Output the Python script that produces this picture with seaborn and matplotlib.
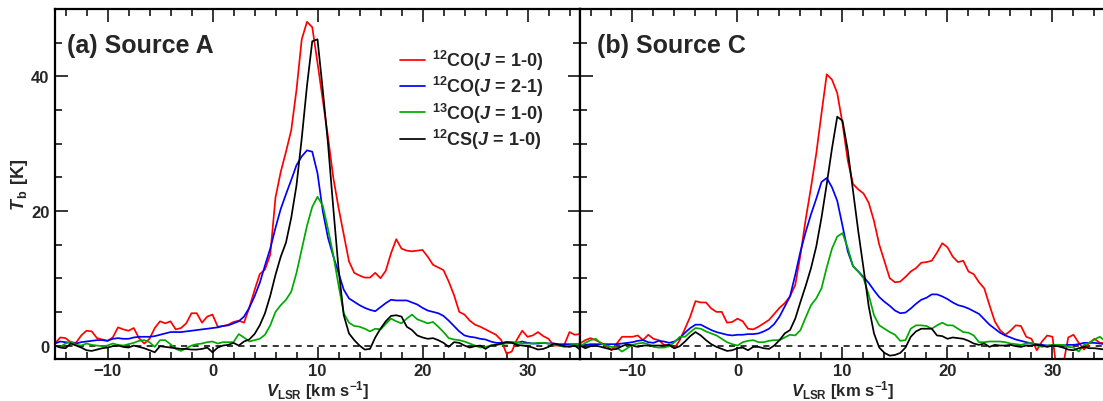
import numpy as np
import pandas as pd
import matplotlib
matplotlib.use("Agg")
import matplotlib.pyplot as plt
from matplotlib.ticker import MultipleLocator
import seaborn as sns

# ---------------- data ----------------
velocity = np.arange(-15, 35.01, 0.5)  # channel grid, km/s

series_labels = [r"$^{\mathrm{12}}$CO($J$ = 1-0)", r"$^{\mathrm{12}}$CO($J$ = 2-1)",
                 r"$^{\mathrm{13}}$CO($J$ = 1-0)", r"$^{\mathrm{12}}$CS($J$ = 1-0)"]
series_colors = ["#ff0000", "#0000ff", "#00aa00", "#000000"]

a_co10 = [0.3, 1.2, 1.1, 0.5, 0.4, 1.5, 2.2, 2.1, 1.1, 0.9,
          0.7, 1.2, 2.7, 2.4, 2.2, 2.6, 1.1, 0.3, 1.0, 2.6,
          3.6, 3.3, 3.6, 2.4, 2.6, 3.3, 4.8, 4.8, 3.4, 4.3,
          4.6, 2.8, 2.9, 3.1, 3.5, 3.7, 3.4, 5.6, 8.2, 10.6,
          11.3, 13.5, 22.0, 25.8, 28.8, 32.0, 38.0, 45.5, 48.1, 47.3,
          42.0, 36.5, 31.0, 25.0, 20.5, 16.5, 12.5, 10.8, 10.4, 10.1,
          10.1, 10.8, 10.0, 11.1, 13.7, 15.8, 14.4, 14.1, 14.0, 14.1,
          14.2, 13.2, 12.0, 11.6, 11.2, 9.5, 7.5, 5.0, 4.6, 3.7,
          3.1, 2.8, 2.4, 2.0, 1.6, 0.8, -1.2, -0.9, 0.9, 2.2,
          1.3, 1.5, 2.0, 1.4, 1.0, 0.0, 0.0, 0.1, 2.0, 1.6,
          1.7]
a_co21 = [0.3, 0.6, 0.5, 0.4, 0.3, 0.5, 0.6, 0.7, 0.8, 0.8,
          0.7, 1.0, 1.1, 1.0, 1.0, 1.2, 1.3, 1.3, 1.3, 1.4,
          1.6, 1.8, 2.0, 2.0, 2.0, 2.1, 2.2, 2.3, 2.4, 2.5,
          2.6, 2.7, 2.9, 3.0, 3.3, 3.6, 4.3, 5.6, 7.3, 9.3,
          11.9, 14.4, 17.5, 20.3, 22.5, 24.6, 26.8, 28.1, 29.0, 28.8,
          25.6, 20.0, 16.0, 13.3, 10.8, 8.3, 7.0, 6.5, 6.0, 5.6,
          5.3, 5.1, 5.7, 6.3, 6.8, 6.7, 6.7, 6.7, 6.4, 6.1,
          5.6, 5.2, 5.0, 4.8, 4.4, 3.7, 2.9, 2.1, 1.5, 1.3,
          1.2, 1.0, 0.9, 0.6, 0.4, 0.4, 0.5, 0.5, 0.4, 0.6,
          0.4, 0.3, 0.3, 0.4, 0.3, 0.3, 0.2, 0.2, 0.2, 0.2,
          0.2]
a_13co = [0.0, -0.2, 0.3, 0.6, 0.1, 0.0, 0.3, 0.1, 0.0, -0.1,
          0.0, 0.3, 0.1, 0.0, 0.2, 0.4, 0.7, 0.8, 0.5, -0.2,
          0.8, 0.8, 0.2, -0.5, -0.8, -0.4, 0.0, 0.2, 0.3, 0.5,
          0.6, 0.3, 0.5, 0.5, 0.5, 1.7, 1.2, 0.6, 0.8, 1.0,
          1.6, 3.0, 5.0, 6.0, 6.8, 8.0, 10.8, 14.3, 17.8, 20.6,
          22.1, 20.8, 17.3, 13.5, 9.0, 4.8, 3.4, 2.9, 2.8, 2.5,
          2.1, 2.5, 2.4, 3.2, 4.0, 3.6, 3.3, 4.0, 4.6, 3.9,
          3.6, 3.3, 3.5, 2.8, 2.0, 1.1, 0.9, 0.8, 0.6, 0.3,
          0.0, -0.3, -0.2, 0.0, 0.1, 0.2, 0.3, 0.4, 0.5, 0.3,
          0.3, 0.3, 0.4, 0.4, 0.3, 0.2, 0.0, -0.2, 0.0, 0.1,
          0.3]
a_cs = [0.0, -0.3, -0.4, 0.3, 0.0, -0.3, -0.7, -0.8, -0.6, -0.4,
        -0.3, -0.1, 0.0, -0.2, -0.3, 0.0, -0.2, -0.4, -0.7, -1.0,
        -0.1, -0.2, -0.3, -0.4, -0.5, -0.5, -0.6, -0.6, -0.5, -0.3,
        -1.0, -0.3, 0.0, 0.1, 0.4, 0.0, 0.6, 0.9, 1.7, 3.0,
        4.8, 7.4, 10.5, 13.2, 15.3, 19.0, 23.8, 30.8, 38.6, 45.2,
        45.5, 38.0, 30.0, 20.5, 11.5, 4.5, 1.8, 0.8, 0.0, -0.6,
        -0.5, 1.2, 2.5, 3.6, 4.4, 4.5, 4.3, 2.8, 2.3, 1.5,
        1.2, 1.0, 1.1, 0.8, 0.4, -0.2, 0.5, 0.4, 0.0, -0.3,
        -0.1, 0.0, -0.5, 0.0, 0.1, 0.3, 0.5, 0.4, 0.1, 0.0,
        -0.1, -0.3, -0.6, -0.5, -0.2, 0.3, 0.1, -0.1, -0.2, 0.0,
        -0.6]

c_co10 = [0.3, 0.8, 1.1, 0.8, 0.4, 0.0, -0.7, 0.3, 1.3, 1.3,
          1.3, 1.5, 0.8, 1.6, 1.0, 0.8, 0.1, 0.0, -0.4, 0.8,
          2.5, 4.3, 6.6, 6.4, 6.4, 5.5, 5.0, 5.0, 3.4, 3.5,
          4.0, 3.6, 2.5, 2.4, 2.8, 3.3, 3.8, 4.7, 5.6, 6.3,
          7.3, 9.0, 13.5, 18.8, 23.5, 28.5, 34.5, 40.3, 39.5, 37.5,
          33.0, 27.5, 24.0, 23.2, 22.6, 21.2, 18.5, 15.0, 12.5, 10.0,
          9.4, 9.5, 10.2, 11.0, 11.5, 12.3, 12.4, 12.6, 13.8, 15.2,
          14.6, 13.2, 12.4, 12.6, 11.0, 10.6, 9.4, 8.5, 6.0, 3.6,
          2.3, 1.6, 2.2, 3.0, 2.9, 1.3, 1.0, -0.7, 0.6, 1.5,
          1.3, -5.0, -3.0, 1.2, 1.6, 0.4, -0.6, 0.4, 1.0, 0.4,
          0.4]
c_co21 = [0.0, 0.1, 0.2, 0.2, 0.2, 0.2, 0.2, 0.2, 0.3, 0.4,
          0.5, 0.7, 0.8, 0.5, 0.4, 0.7, 0.6, 0.4, 0.6, 1.1,
          1.9, 2.6, 3.1, 3.1, 2.7, 2.3, 2.0, 1.8, 1.6, 1.5,
          1.6, 1.6, 1.7, 1.7, 1.8, 2.1, 2.5, 3.2, 4.3, 5.8,
          7.3, 10.5, 14.0, 16.9, 19.5, 21.8, 24.3, 24.9, 23.5, 21.5,
          17.8, 14.0, 11.8, 11.0, 10.2, 9.3, 8.2, 7.2, 6.5, 5.9,
          5.2, 4.8, 4.9, 5.5, 6.2, 6.8, 7.1, 7.6, 7.6, 7.3,
          6.9, 6.4, 6.0, 5.8, 5.5, 5.1, 4.7, 3.9, 3.1, 2.5,
          1.9, 1.5, 1.2, 0.9, 0.7, 0.5, 0.3, 0.2, 0.1, 0.0,
          0.0, 0.0, 0.0, 0.1, 0.1, 0.2, 0.4, 0.4, 0.4, 0.3,
          0.2]
c_13co = [-0.2, 0.4, 0.8, 1.0, 0.3, 0.0, -0.2, -0.3, -0.9, -0.4,
          0.1, 0.3, 0.4, 0.2, -0.2, -0.3, -0.3, -0.1, 0.5, 1.3,
          1.3, 2.0, 2.6, 2.5, 2.1, 1.8, 1.5, 1.0, 0.5, 0.2,
          0.0, 0.5, 0.7, 0.8, 0.5, 0.5, 0.7, 0.8, 0.8, 1.2,
          1.6, 1.5, 2.3, 4.2, 6.0, 7.0, 8.5, 11.6, 14.4, 16.2,
          16.7, 14.5, 11.8, 11.0, 10.0, 7.5, 4.5, 3.0, 2.5, 2.0,
          1.6, 0.7, 0.8, 2.5, 3.0, 3.0, 2.9, 2.5, 3.0, 3.4,
          3.0, 3.0, 2.5, 2.0, 1.9, 1.5, 0.5, 0.5, 0.6, 0.6,
          0.6, 0.5, 0.3, 0.2, 0.1, 0.3, 0.4, 0.0, -0.2, 0.0,
          0.1, 0.1, 0.1, -0.2, -0.3, -0.9, 0.1, 0.4, 0.9, 1.3,
          0.7]
c_cs = [0.0, -0.4, -0.1, 0.0, -0.2, -0.4, -0.6, -0.5, -0.1, 0.2,
        0.0, -0.2, 0.0, 0.0, 0.0, 0.0, 0.0, 0.1, -0.4, -0.1,
        0.6, 1.4, 2.0, 1.5, 0.8, 0.2, -0.2, -0.5, -0.8, -0.7,
        -0.4, -0.3, -0.7, -0.2, -0.2, -0.4, -0.5, 0.0, 0.8, 1.8,
        2.3, 4.0, 6.5, 8.9, 11.5, 14.7, 19.0, 24.0, 29.3, 34.0,
        33.4, 29.0, 23.0, 17.0, 11.5, 5.8, 1.8, -0.3, -1.1, -1.5,
        -1.4, -1.1, -0.3, 1.3, 2.1, 2.5, 2.5, 2.5, 1.5, 1.4,
        1.0, 1.2, 1.1, 1.0, 0.7, 0.3, 0.1, 0.3, -0.2, 0.1,
        0.0, 0.0, 0.1, -0.1, -0.2, 0.0, 0.0, 0.1, 0.0, -0.2,
        0.0, -0.1, -0.3, -0.6, -0.7, -0.4, -0.2, -0.4, -0.4, -0.5,
        -0.6]

panel_titles = ["(a) Source A", "(b) Source C"]
xticks = [-10, 0, 10, 20, 30]
yticks = [0, 20, 40]


def long_frame(cols):
    parts = []
    for lab, vals in zip(series_labels, cols):
        parts.append(pd.DataFrame({"v": velocity, "T": vals, "line": lab}))
    return pd.concat(parts, ignore_index=True)


df_a = long_frame([a_co10, a_co21, a_13co, a_cs])
df_c = long_frame([c_co10, c_co21, c_13co, c_cs])

# ---------------- style ----------------
sns.set_style("ticks")
txtc = "#262626"
plt.rcParams.update({
    "font.family": ["Liberation Sans", "DejaVu Sans"],
    "font.weight": "bold",
    "axes.labelweight": "bold",
    "mathtext.fontset": "custom",
    "mathtext.rm": "Liberation Sans:bold",
    "mathtext.it": "Liberation Sans:italic:bold",
    "mathtext.bf": "Liberation Sans:bold",
    "text.color": txtc,
    "axes.labelcolor": txtc,
    "xtick.labelcolor": txtc,
    "ytick.labelcolor": txtc,
    "axes.edgecolor": "black",
})

W, H = 1103, 402
fig = plt.figure(figsize=(W / 100, H / 100), dpi=100)
ax1 = fig.add_axes([55 / W, 42 / H, 525 / W, 350 / H])
ax2 = fig.add_axes([580 / W, 42 / H, 525 / W, 350 / H])

palette = dict(zip(series_labels, series_colors))

for ax, df, title, tx in [(ax1, df_a, panel_titles[0], 0.023),
                          (ax2, df_c, panel_titles[1], 0.033)]:
    ax.axhline(0, color="black", lw=1.1, ls=(0, (4, 3.5)), zorder=1)
    sns.lineplot(data=df, x="v", y="T", hue="line", hue_order=series_labels,
                 palette=palette, estimator=None, sort=False, lw=1.25,
                 ax=ax, legend=(ax is ax1))
    ax.set_xlim(-15, 35)
    ax.set_ylim(-2, 50)
    ax.xaxis.set_major_locator(MultipleLocator(10))
    ax.xaxis.set_minor_locator(MultipleLocator(2))
    ax.yaxis.set_major_locator(MultipleLocator(20))
    ax.yaxis.set_minor_locator(MultipleLocator(5))
    ax.tick_params(which="both", direction="in", top=True, right=(ax is ax1),
                   width=1.1, color="black", labelsize=12)
    ax.tick_params(which="major", length=9, pad=4)
    ax.tick_params(axis="x", which="major", pad=3)
    ax.tick_params(which="minor", length=5)
    for s in ax.spines.values():
        s.set_linewidth(1.6)
        s.set_visible(True)
    ax.set_xticks(xticks)
    ax.set_xlabel(r"$\mathit{V}_{\mathrm{LSR}}$ [km s$^{\mathrm{-1}}$]", fontsize=12, labelpad=0)
    ax.text(tx, 0.877, title, transform=ax.transAxes, fontsize=18,
            fontweight="bold", va="baseline", ha="left")

ax1.set_yticks(yticks)
ax1.set_ylabel(r"$\mathit{T}_{\mathrm{\,b}}$ [K]", fontsize=13, labelpad=1)
ax2.set_ylabel("")
ax2.tick_params(labelleft=False)

ax1.legend(loc="upper left", bbox_to_anchor=((400 - 55) / 525, (360 - 49) / 350),
           frameon=False, fontsize=13, handlelength=1.4, handletextpad=0.35,
           labelspacing=0.12, borderpad=0, borderaxespad=0, title=None)

fig.savefig("out.png", dpi=100)
